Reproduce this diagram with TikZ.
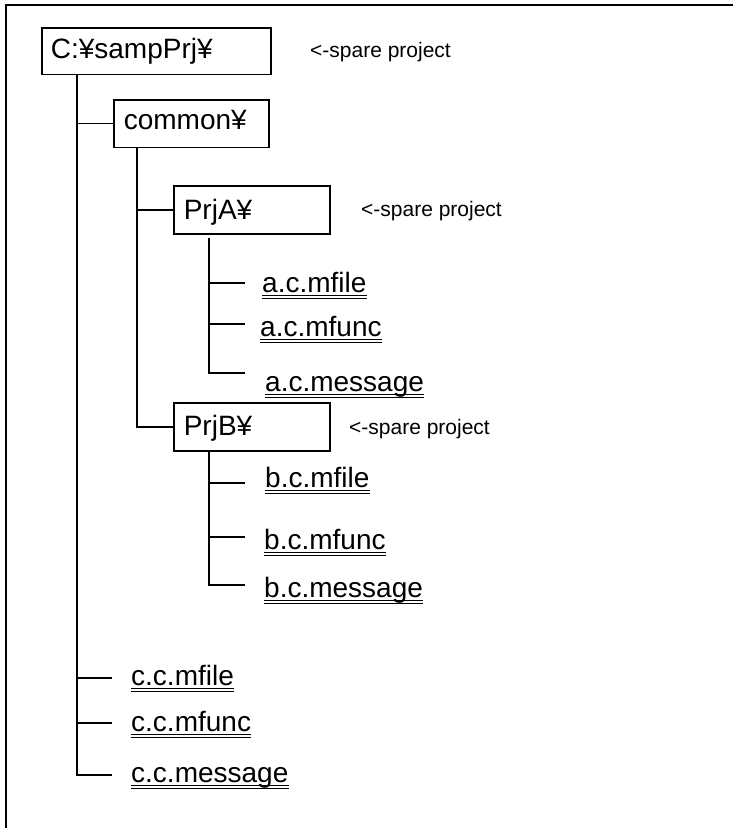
\documentclass[tikz,border=0pt]{standalone}
\usepackage{fontspec}
\setmainfont{Liberation Sans}
\begin{document}
\begin{tikzpicture}[x=1pt,y=-1pt,
  every node/.style={font=\fontsize{28}{30}\selectfont, inner sep=0pt},
  dirbox/.style={draw, line width=1.6pt, anchor=north west, align=left,
    inner xsep=10pt, inner ysep=0pt, text height=30pt, text depth=17pt},
  note/.style={font=\fontsize{21}{24}\selectfont, anchor=base west},
  leaf/.style={anchor=base west},
  tree/.style={line width=1.6pt},
  uline/.style={line width=1pt},
  frame/.style={line width=2.2pt}]
\useasboundingbox (0,0) rectangle (732,828);

% outer frame (top and left edges)
\coordinate (fbl) at (6,830);
\coordinate (ftl) at (6,5);
\coordinate (ftr) at (734,5);
\draw[frame] (fbl) -- (ftl) -- (ftr);

% folders
\node[dirbox, text width=211pt, inner xsep=9pt, text height=30.5pt, text depth=16pt] (root) at (41,27) {C:¥sampPrj¥};
\node[dirbox, text width=135pt, text height=30pt, text depth=17.5pt] (common) at (113,99) {common¥};
\node[dirbox, text width=136pt, text height=33.5pt, text depth=14.5pt] (prjA) at (173,185) {PrjA¥};
\node[dirbox, text width=136pt, text height=33pt, text depth=15pt] (prjB) at (173,402) {PrjB¥};

% remarks
\node[note] (nroot) at (310,57) {<-spare project};
\node[note] (nA) at (361,216) {<-spare project};
\node[note] (nB) at (349,434) {<-spare project};

% files
\node[leaf] (acmfile) at (262,292) {a.c.mfile};
\node[leaf] (acmfunc) at (260,336) {a.c.mfunc};
\node[leaf] (acmsg)   at (265,391) {a.c.message};
\node[leaf] (bcmfile) at (265,487) {b.c.mfile};
\node[leaf] (bcmfunc) at (264,549) {b.c.mfunc};
\node[leaf] (bcmsg)   at (264,597) {b.c.message};
\node[leaf] (ccmfile) at (131,685) {c.c.mfile};
\node[leaf] (ccmfunc) at (131,731) {c.c.mfunc};
\node[leaf] (ccmsg)   at (131,782) {c.c.message};

% double underlines of the file names
\foreach \f in {acmfile,acmfunc,acmsg,bcmfile,bcmfunc,bcmsg,ccmfile,ccmfunc,ccmsg}{
  \draw[uline] ([yshift=-3.2pt]\f.base west) -- ([yshift=-3.2pt]\f.base east);
  \draw[uline] ([yshift=-6pt]\f.base west) -- ([yshift=-6pt]\f.base east);
}

% branch ends
\coordinate (a1) at (245,283);
\coordinate (a2) at (245,324);
\coordinate (a3) at (245,373);
\coordinate (b1) at (245,483);
\coordinate (b2) at (245,537);
\coordinate (b3) at (245,585);
\coordinate (c1) at (112,678);
\coordinate (c2) at (112,723);
\coordinate (c3) at (112,775);

% tree of root folder
\coordinate (rt) at ([xshift=36pt]root.south west);
\draw[tree] (rt) |- (c3);
\draw[tree] (rt |- common.west) -- (common.west);
\draw[tree] (rt |- c1) -- (c1);
\draw[tree] (rt |- c2) -- (c2);

% tree of common
\coordinate (ct) at ([xshift=24pt]common.south west);
\draw[tree] (ct) |- (prjB.west);
\draw[tree] (ct |- prjA.west) -- (prjA.west);

% tree of PrjA
\coordinate (at) at ([xshift=36pt,yshift=-3pt]prjA.south west);
\draw[tree] (at) |- (a3);
\draw[tree] (at |- a1) -- (a1);
\draw[tree] (at |- a2) -- (a2);

% tree of PrjB
\coordinate (bt) at ([xshift=36pt]prjB.south west);
\draw[tree] (bt) |- (b3);
\draw[tree] (bt |- b1) -- (b1);
\draw[tree] (bt |- b2) -- (b2);
\end{tikzpicture}
\end{document}
